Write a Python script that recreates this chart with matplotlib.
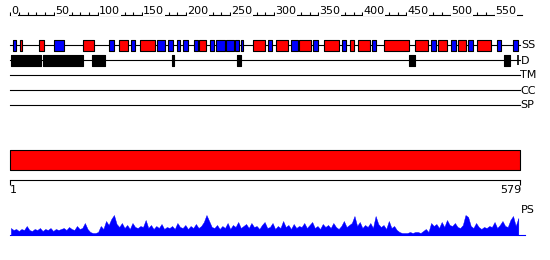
import numpy as np
import matplotlib
matplotlib.use('Agg')
import matplotlib.pyplot as plt

# Sequence / feature data (residue numbers)
seq_len = 579
ruler_major = list(range(0, 551, 50))
ruler_minor = list(range(0, 571, 10))

helix_start = [11, 33, 83, 124, 147, 215, 276, 302, 328, 356, 386, 395, 425, 460, 486, 508, 530]
helix_end = [14, 39, 95, 134, 165, 222, 289, 315, 342, 374, 390, 409, 453, 475, 496, 518, 546]
strand_start = [3, 50, 112, 137, 167, 179, 189, 196, 209, 227, 234, 245, 255, 262, 293, 319,
                344, 377, 411, 478, 501, 520, 553, 571]
strand_end = [7, 61, 118, 142, 176, 185, 193, 202, 213, 231, 244, 254, 260, 265, 297, 327,
              350, 381, 416, 483, 506, 526, 557, 577]

disorder_start = [1, 37.5, 93, 184, 258, 453, 561]
disorder_end = [35.5, 83, 108, 186, 262, 460, 568]

track_labels = ['TM', 'CC', 'SP']

# PS profile, one value every 3 residues starting at residue 1
ps_step = 3
ps_values = [
    7, 5, 6, 4, 6, 5, 9, 5, 4, 6,
    5, 7, 4, 6, 5, 7, 4, 6, 5, 6,
    7, 5, 8, 6, 5, 9, 6, 7, 12, 6,
    3, 2, 2, 3, 9, 6, 14, 10, 16, 20,
    11, 8, 12, 7, 10, 6, 12, 8, 7, 9,
    8, 15, 7, 10, 6, 9, 7, 11, 6, 8,
    7, 9, 6, 12, 8, 7, 10, 6, 9, 7,
    11, 7, 9, 13, 20, 14, 8, 7, 10, 6,
    9, 7, 12, 6, 10, 8, 13, 7, 9, 11,
    7, 12, 8, 9, 6, 10, 13, 7, 8, 12,
    6, 9, 7, 14, 8, 10, 6, 11, 7, 9,
    8, 12, 7, 10, 13, 7, 9, 6, 11, 8,
    10, 7, 12, 8, 6, 9, 14, 8, 10, 12,
    19, 9, 13, 7, 10, 8, 12, 7, 19, 11,
    8, 10, 6, 14, 7, 9, 5, 3, 2, 2,
    2, 3, 2, 3, 3, 2, 4, 6, 3, 12,
    9, 11, 7, 13, 8, 15, 10, 9, 12, 8,
    7, 10, 20, 18, 9, 7, 12, 8, 6, 8,
    7, 9, 8, 13, 7, 10, 14, 9, 8, 15,
    19, 9, 17,
]

# --- layout: x in residues (px = 10 + 0.881 * r), y in pixels from top
k = 0.881
fig = plt.figure(figsize=(5.5, 2.6), dpi=100)
ax = fig.add_axes([0, 0, 1, 1])
ax.set_xlim(-10 / k, 540 / k)
ax.set_ylim(260, 0)
ax.axis('off')

lw = 0.8
fs = 8

# top ruler
ax.plot([0, 581], [15, 15], color='black', lw=lw)
ax.vlines(ruler_minor, 11.5, 15, color='black', lw=lw)
for v in ruler_major:
    ax.text(v + 1 / k, 13.5, str(v), fontsize=fs, ha='left', va='baseline',
            bbox=dict(facecolor='white', edgecolor='none', pad=0.3))

# SS track
ax.plot([0, seq_len], [45, 45], color='black', lw=lw)
ax.broken_barh([(s, e - s) for s, e in zip(helix_start, helix_end)], (40, 11),
               facecolors='red', edgecolors='black', lw=lw, zorder=3)
ax.broken_barh([(s, e - s) for s, e in zip(strand_start, strand_end)], (40, 11),
               facecolors='blue', edgecolors='black', lw=lw, zorder=3)
ax.text(seq_len + 1 / k, 45.5, 'SS', fontsize=fs, ha='left', va='center')

# disorder track
ax.plot([0, seq_len], [60, 60], color='black', lw=lw)
ax.broken_barh([(s, e - s) for s, e in zip(disorder_start, disorder_end)], (54.5, 11),
               facecolors='black', edgecolors='black', lw=lw, zorder=3)
ax.vlines([seq_len - 2], 55, 65, color='black', lw=1.2)
ax.text(seq_len + 1 / k, 60.5, 'D', fontsize=fs, ha='left', va='center')

# empty tracks
for i, lab in enumerate(track_labels):
    y = 75 + 15 * i
    ax.plot([0, seq_len], [y, y], color='black', lw=lw)
    ax.text(seq_len, y + 0.5, lab, fontsize=fs, ha='left', va='center')

# domain bar
ax.broken_barh([(0, seq_len)], (150, 20), facecolors='red', edgecolors='black', lw=lw)

# bottom ruler
ax.plot([0, seq_len], [180, 180], color='black', lw=lw)
ax.vlines([0, seq_len], 180, 185, color='black', lw=lw)
ax.text(0, 190, '1', fontsize=fs, ha='left', va='center')
ax.text(seq_len + 1 / k, 190, str(seq_len), fontsize=fs, ha='right', va='center')
ax.text(seq_len + 1 / k, 210, 'PS', fontsize=fs, ha='left', va='center')

# PS profile
ps_x = np.arange(len(ps_values)) * ps_step + 1
ps_y = 235 - np.array(ps_values, dtype=float)
ax.fill_between(ps_x, ps_y, 235, color='blue', lw=0.3)
ax.plot([0, seq_len + 5 / k], [235, 235], color='blue', lw=lw)

fig.savefig('out.png', dpi=100, facecolor='white')
